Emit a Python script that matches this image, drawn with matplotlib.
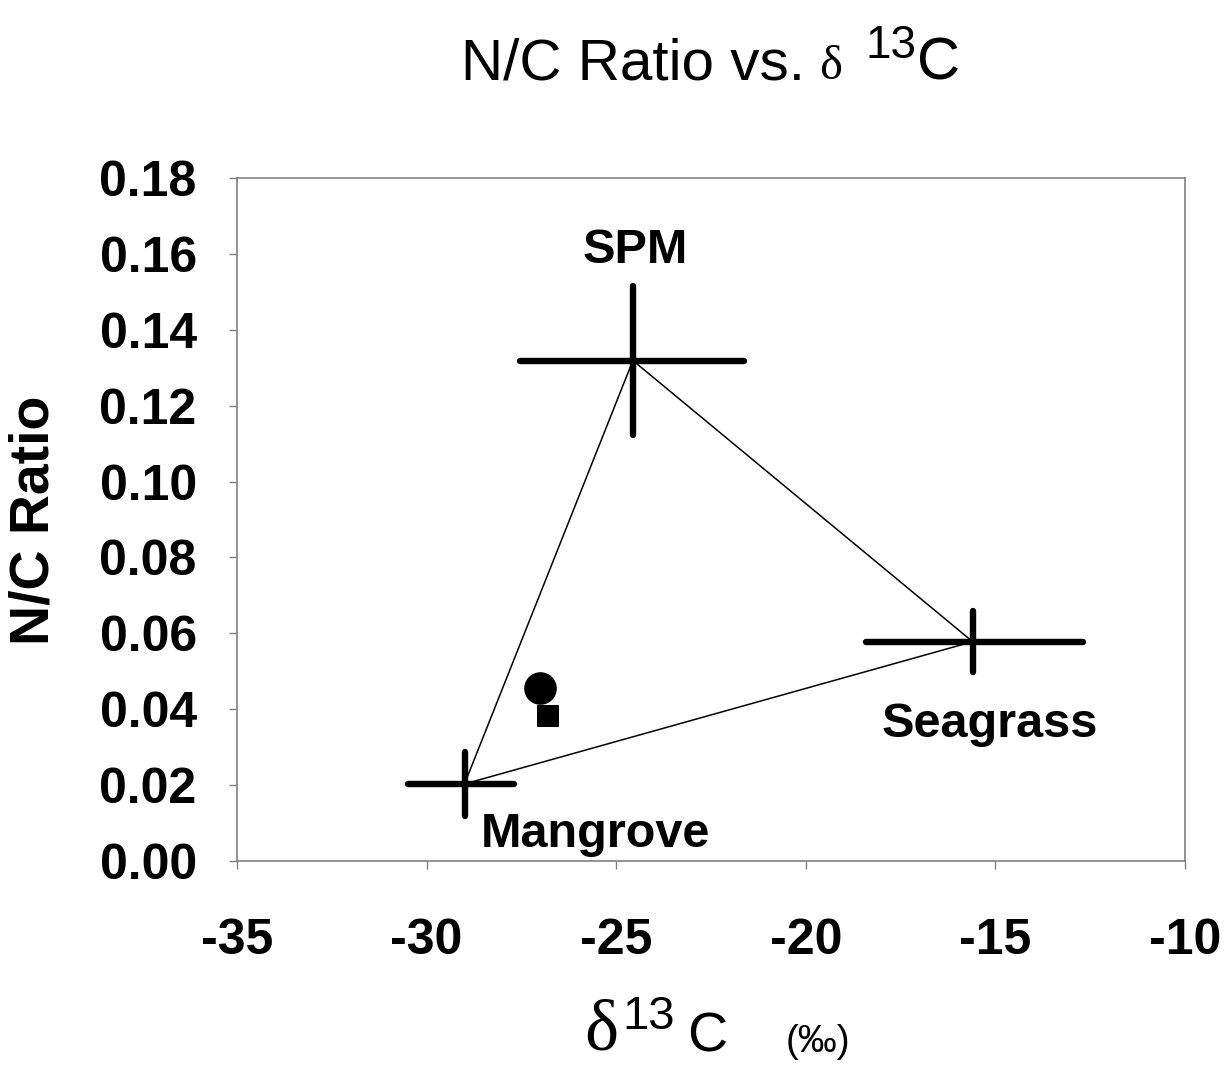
import matplotlib
matplotlib.use('Agg')
import matplotlib.pyplot as plt

# source end-members
sources = ['Mangrove', 'SPM', 'Seagrass']
d13c = [-29.0, -24.56, -15.6]
nc_ratio = [0.0203, 0.1319, 0.0578]
d13c_err_low = [1.5, 2.98, 2.81]
d13c_err_high = [1.3, 2.93, 2.91]
nc_err = [0.0084, 0.0196, 0.008]

# sediment samples
sample_d13c = [-27.0, -26.81]
sample_nc = [0.0457, 0.0382]
sample_markers = ['o', 's']

xticks = [-35, -30, -25, -20, -15, -10]
yticks = [0.00, 0.02, 0.04, 0.06, 0.08, 0.10, 0.12, 0.14, 0.16, 0.18]

sans = ['Liberation Sans', 'DejaVu Sans']
serif = ['Liberation Serif', 'DejaVu Serif']
plt.rcParams['font.family'] = sans

W, H = 1231, 1068
fig = plt.figure(figsize=(W / 100, H / 100), dpi=100)
ax = fig.add_axes([237 / W, 1 - 861 / H, (1185 - 237) / W, (861 - 178) / H])

# triangle joining the end-members
ax.plot(d13c + d13c[:1], nc_ratio + nc_ratio[:1], color='black', lw=1.1, zorder=2)

eb = ax.errorbar(d13c, nc_ratio, xerr=[d13c_err_low, d13c_err_high], yerr=nc_err,
                 fmt='none', ecolor='black', elinewidth=4.6, capsize=0, zorder=3)
for lc in eb[2]:
    lc.set_capstyle('round')

for x, y, m in zip(sample_d13c, sample_nc, sample_markers):
    size = 23.5 if m == 'o' else 15.5
    ax.plot(x, y, marker=m, color='black', markersize=size, markeredgewidth=0, zorder=4)

# labels for end-members
offsets = {'SPM': (1.7, 70.2), 'Seagrass': (12.5, -68.6), 'Mangrove': (94.5, -45.4)}
for name, x, y in zip(sources, d13c, nc_ratio):
    ax.annotate(name, (x, y), xytext=offsets[name], textcoords='offset points',
                ha='center', va='baseline', fontsize=35, fontweight='bold')

ax.set_xlim(-35, -10)
ax.set_ylim(0, 0.18)
ax.set_xticks(xticks)
ax.set_yticks(yticks)
ax.set_xticklabels([str(t) for t in xticks])
ax.set_yticklabels(['%.2f' % t for t in yticks])
for s in ax.spines.values():
    s.set_color('#808080')
    s.set_linewidth(1.2)
ax.tick_params(axis='both', direction='out', length=6, width=1, color='#808080',
               labelsize=36)
ax.tick_params(axis='x', pad=35)
ax.tick_params(axis='y', pad=23)
for lab in ax.get_xticklabels() + ax.get_yticklabels():
    lab.set_fontweight('bold')

ax.set_ylabel('N/C Ratio', fontsize=40, fontweight='bold')
ax.yaxis.set_label_coords(35 / W, 1 - 520 / H, transform=fig.transFigure)
ax.yaxis.label.set_va('center')

# title pieces
fy = lambda py: 1 - py / H
fig.text(461 / W, fy(79), 'N/C Ratio vs.', fontsize=42, va='baseline', ha='left')
fig.text(819 / W, fy(79), 'δ', fontsize=35, family=serif, va='baseline', ha='left')
fig.text(865 / W, fy(58), '13', fontsize=33, va='baseline', ha='left')
fig.text(917 / W, fy(79), 'C', fontsize=43, va='baseline', ha='left')

# x label pieces
fig.text(584 / W, fy(1050), 'δ', fontsize=52, family=serif, va='baseline', ha='left')
fig.text(622 / W, fy(1029), '13', fontsize=34, va='baseline', ha='left')
fig.text(687 / W, fy(1052), 'C', fontsize=40, va='baseline', ha='left')
fig.text(786 / W, fy(1052), '(‰)', fontsize=28, va='baseline', ha='left')

fig.savefig('out.png', dpi=100)
